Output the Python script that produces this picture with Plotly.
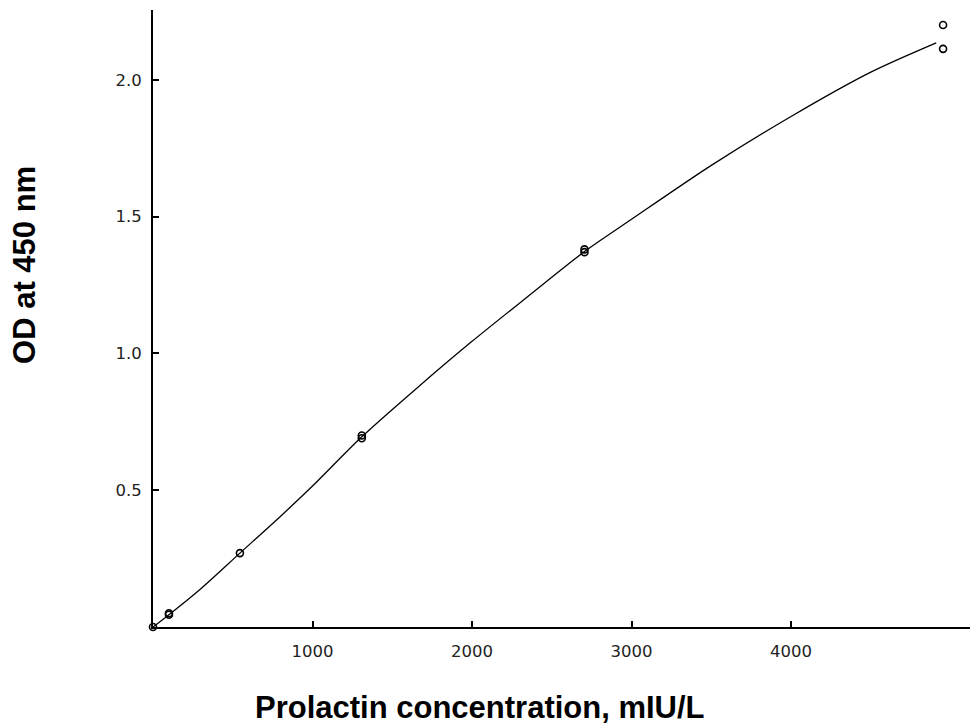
import plotly.graph_objects as go

# Measured standards (replicates)
conc = [0, 100, 100, 545, 1309, 1309, 2705, 2705, 4953, 4953]
od = [0.0, 0.045, 0.05, 0.27, 0.69, 0.70, 1.37, 1.38, 2.20, 2.113]

# Fitted calibration curve
curve_x = [0, 100, 300, 545, 800, 1000, 1309, 1650, 2000, 2350, 2705, 3000, 3500, 4000, 4500, 4910]
curve_y = [0.0, 0.045, 0.14, 0.27, 0.405, 0.515, 0.695, 0.871, 1.044, 1.208, 1.372, 1.49, 1.687, 1.866, 2.028, 2.135]

x_ticks = [1000, 2000, 3000, 4000]
y_ticks = [0.5, 1.0, 1.5, 2.0]
y_tick_text = ["0.5", "1.0", "1.5", "2.0"]

fig = go.Figure()
fig.add_trace(go.Scatter(x=curve_x, y=curve_y, mode="lines",
                         line=dict(color="black", width=1.3, shape="spline", smoothing=0.8),
                         hoverinfo="skip", showlegend=False))
fig.add_trace(go.Scatter(x=conc, y=od, mode="markers",
                         marker=dict(symbol="circle-open", size=7, color="black",
                                     line=dict(width=1.6, color="black")),
                         showlegend=False, cliponaxis=False))

tickfont = dict(family="DejaVu Sans", size=16.5, color="#222")
fig.update_layout(
    width=970, height=720,
    margin=dict(l=145, r=0, t=2, b=101),
    plot_bgcolor="white", paper_bgcolor="white",
    xaxis=dict(range=[0, 5172], showgrid=False, zeroline=False,
               showline=True, linecolor="black", linewidth=2,
               ticks="inside", ticklen=6, tickwidth=1.5, tickcolor="black",
               tickvals=x_ticks, tickfont=tickfont, ticklabelstandoff=8),
    yaxis=dict(range=[0, 2.255], showgrid=False, zeroline=False,
               showline=True, linecolor="black", linewidth=2,
               ticks="inside", ticklen=6, tickwidth=1.5, tickcolor="black",
               tickvals=y_ticks, ticktext=y_tick_text, tickfont=tickfont,
               ticklabelstandoff=6),
    annotations=[
        dict(text="<b>Prolactin concentration, mIU/L</b>", xref="paper", yref="paper",
             x=0.396, y=-0.131, xanchor="center", yanchor="middle", showarrow=False,
             font=dict(family="Liberation Sans", size=31, color="black")),
        dict(text="<b>OD at 450 nm</b>", xref="paper", yref="paper",
             x=-0.155, y=0.587, xanchor="center", yanchor="middle", showarrow=False,
             textangle=-90,
             font=dict(family="Liberation Sans", size=31, color="black")),
    ],
)
fig.write_html("out.html")
